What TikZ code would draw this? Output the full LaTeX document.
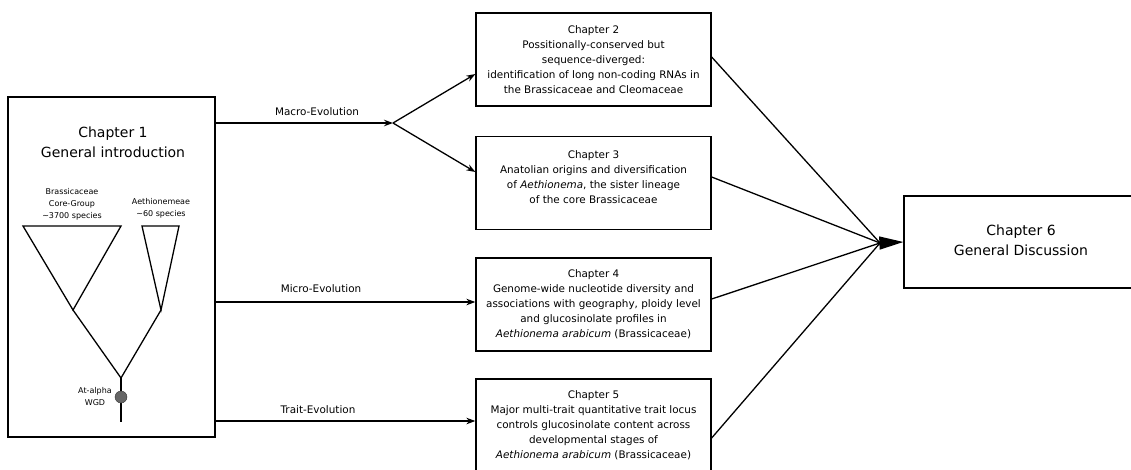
\documentclass[tikz,border=0pt]{standalone}
\usepackage{fontspec}
\setmainfont{DejaVu Sans}
\usepackage{tikz}
\usetikzlibrary{arrows.meta}

\tikzset{
  chapbox/.style  = {draw, line width=1.3pt, minimum width=235pt, minimum height=93pt, inner sep=0pt, align=center, font=\fontsize{10.4}{15}\selectfont},
  bigtext/.style  = {align=center, inner sep=0pt, font=\fontsize{14}{20}\selectfont},
  smalltext/.style= {align=center, inner sep=0pt, font=\fontsize{8}{12}\selectfont},
  evolabel/.style = {inner sep=0pt, font=\fontsize{10.4}{15}\selectfont},
  arr/.style      = {line width=1.3pt, -{Stealth[length=9pt,width=6.5pt]}},
  conn/.style     = {line width=1.3pt}
}

\begin{document}
\begin{tikzpicture}[x=1pt, y=-1pt]
    \clip (0,0) rectangle (1131,469);

    % chapter 1 with the tree
    \node[draw, line width=1.3pt, minimum width=207pt, minimum height=340pt, inner sep=0pt] (c1) at (111.5,267) {};
    \node[bigtext] (t1) at (113,142) {Chapter 1\\General introduction};
    \node[smalltext] (core) at (72,204)  {Brassicaceae\\Core-Group\\\textasciitilde3700 species};
    \node[smalltext] (aeth) at (161,208) {Aethionemeae\\\textasciitilde60 species};
    \node[smalltext] (wgdl) at (95,397)  {At-alpha\\WGD};

    \coordinate (lt1) at ( 23,226);
    \coordinate (lt2) at (121,226);
    \coordinate (la)  at ( 73,310);
    \coordinate (rt1) at (142,226);
    \coordinate (rt2) at (179,226);
    \coordinate (ra)  at (161,310);
    \coordinate (root) at (121,378);
    \coordinate (stem) at (121,422);
    \draw[conn] (lt1) -- (lt2) -- (la) -- cycle;
    \draw[conn] (rt1) -- (rt2) -- (ra) -- cycle;
    \draw[conn] (la) -- (root) -- (ra);
    \draw[conn] (root) -- (stem);
    \node[circle, draw=black!80, fill=black!60, minimum size=12pt, inner sep=0pt] (wgd) at (121,397) {};

    % chapters 2 to 6
    \node[chapbox] (c2) at (593.5, 59.5) {Chapter 2\\Possitionally-conserved but\\sequence-diverged:\\identification of long non-coding RNAs in\\the Brassicaceae and Cleomaceae};
    \node[chapbox] (c3) at (593.5,183)   {Chapter 3\\Anatolian origins and diversification\\of \textit{Aethionema}, the sister lineage\\of the core Brassicaceae\\[-4pt]};
    \node[chapbox] (c4) at (593.5,304.5) {Chapter 4\\Genome-wide nucleotide diversity and\\associations with geography, ploidy level\\and glucosinolate profiles in\\\textit{Aethionema arabicum} (Brassicaceae)};
    \node[chapbox] (c5) at (593.5,425.5) {Chapter 5\\Major multi-trait quantitative trait locus\\controls glucosinolate content across\\developmental stages of\\\textit{Aethionema arabicum} (Brassicaceae)};
    \node[draw, line width=1.3pt, minimum width=236pt, minimum height=92pt, inner sep=0pt] (c6) at (1022,242) {};
    \node[bigtext] (t6) at (1021,240) {Chapter 6\\General Discussion};

    % evolution arrows
    \coordinate (split) at (393,123);
    \node[evolabel] (macro) at (317,112) {Macro-Evolution};
    \node[evolabel] (micro) at (321,289) {Micro-Evolution};
    \node[evolabel] (trait) at (318,410) {Trait-Evolution};
    \draw[arr] (split -| c1.east) -- (split);
    \draw[arr] (split) -- ([yshift=-14.5pt]c2.west);
    \draw[arr] (split) -- ([yshift=11pt]c3.west);
    \draw[arr] ([yshift=2.5pt]c4.west -| c1.east) -- ([yshift=2.5pt]c4.west);
    \draw[arr] ([yshift=4.5pt]c5.west -| c1.east) -- ([yshift=4.5pt]c5.west);

    % towards the discussion
    \coordinate (merge) at (880,243);
    \draw[conn] ([yshift=2.5pt]c2.east) -- (merge);
    \draw[conn] ([yshift=6pt]c3.east)   -- (merge);
    \draw[conn] ([yshift=5.5pt]c4.east) -- (merge);
    \draw[conn] ([yshift=-12.5pt]c5.east) -- (merge);
    \draw[conn, -{Triangle[length=24pt,width=13pt]}] (merge) -- (c6.west);
\end{tikzpicture}
\end{document}
